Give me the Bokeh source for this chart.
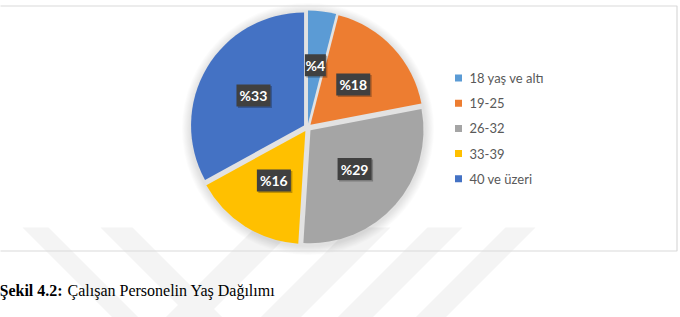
import math
from bokeh.plotting import figure
from bokeh.models import Range1d
from bokeh.core.properties import value
from bokeh.embed import file_html
from bokeh.resources import INLINE

# ---- data ----
categories = ["18 yaş ve altı", "19-25", "26-32", "33-39", "40 ve üzeri"]
values = [4, 18, 29, 16, 33]
colors = ["#5B9BD5", "#ED7D31", "#A5A5A5", "#FFC000", "#4472C4"]
caption_bold = "Şekil 4.2:"
caption_text = "Çalışan Personelin Yaş Dağılımı"

W, H = 680, 317


def Y(py):
    return H - py


p = figure(width=W, height=H, x_range=Range1d(0, W), y_range=Range1d(0, H),
           output_backend="svg", toolbar_location=None,
           x_axis_type=None, y_axis_type=None, min_border=0,
           outline_line_color=None, background_fill_color="white",
           border_fill_color="white")
p.grid.visible = False

# ---- faint watermark stripes ----
wm_top, wm_bot = 227, 317
bands = [(22, 48, 1), (100, 132, 1), (255, 295, -1), (350, 390, -1),
         (427, 462, -1), (505, 535, -1)]
xs, ys = [], []
for xl, xr, d in bands:
    s = (wm_bot - wm_top) * d
    xs.append([xl, xr, xr + s, xl + s])
    ys.append([Y(wm_top), Y(wm_top), Y(wm_bot), Y(wm_bot)])
p.patches(xs, ys, fill_color="#f4f4f4", line_color=None)

# ---- pie ----
cx, cy = 307, Y(127)
r = 113
expl = 4
total = sum(values)

# soft shadow halo
for k in range(10, 0, -1):
    p.circle(x=cx + 0.5, y=cy - 1.5, radius=r + expl + k * 0.9,
             fill_color="#808080", fill_alpha=0.025, line_color=None)
p.circle(x=cx, y=cy, radius=r + expl * 0.5, fill_color="#e2e2e2", line_color=None)

wx, wy, sa, ea, lx, ly = [], [], [], [], [], []
cum = 0
for v in values:
    a0 = math.radians(90 - cum / total * 360)
    a1 = math.radians(90 - (cum + v) / total * 360)
    mid = (a0 + a1) / 2
    ox = cx + expl * math.cos(mid)
    oy = cy + expl * math.sin(mid)
    wx.append(ox)
    wy.append(oy)
    sa.append(a1)
    ea.append(a0)
    lx.append(ox + 0.52 * r * math.cos(mid))
    ly.append(oy + 0.52 * r * math.sin(mid))
    cum += v

p.wedge(x=wx, y=wy, radius=r, start_angle=sa, end_angle=ea,
        direction="anticlock", fill_color=colors, line_color=None)

labels = ["%" + str(v) for v in values]
bw = [21 if len(t) == 2 else 34 for t in labels]
p.rect(x=[x + 1.5 for x in lx], y=[y - 1.5 for y in ly], width=bw, height=22,
       fill_color="black", fill_alpha=0.25, line_color=None)
p.rect(x=lx, y=ly, width=bw, height=22, fill_color="#404040", line_color=None)
p.text(x=lx, y=ly, text=labels, text_align="center", text_baseline="middle",
       text_color="white", text_font=value("Lato"), text_font_style="bold",
       text_font_size="14px")

# ---- legend ----
leg_y = [Y(77.5 + i * 25.2) for i in range(len(categories))]
p.rect(x=[458] * len(categories), y=leg_y, width=7, height=7,
       fill_color=colors, line_color=None)
p.text(x=[469] * len(categories), y=leg_y, text=categories,
       text_align="left", text_baseline="middle", text_color="#595959",
       text_font=value("Lato"), text_font_size="13px")

# ---- chart frame ----
p.quad(left=-5, right=676.5, top=Y(5.5), bottom=Y(250.5), fill_color=None,
       line_color="#d9d9d9", line_width=1.2)

# ---- caption ----
p.text(x=[-1], y=[Y(290)], text=[caption_bold], text_align="left",
       text_baseline="middle", text_color="black",
       text_font=value("Liberation Serif"), text_font_style="bold",
       text_font_size="16px")
p.text(x=[67], y=[Y(290)], text=[caption_text], text_align="left",
       text_baseline="middle", text_color="black",
       text_font=value("Liberation Serif"), text_font_size="16px")

open("out.html", "w").write(file_html(p, INLINE))
